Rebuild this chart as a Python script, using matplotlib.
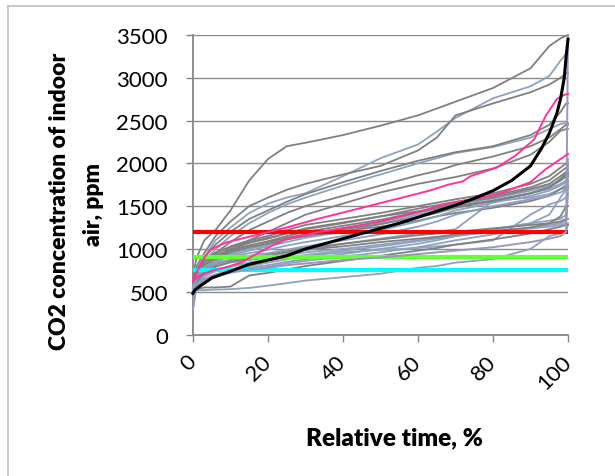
import matplotlib.pyplot as plt
from matplotlib.lines import Line2D

plt.rcParams['font.family'] = ['Lato', 'DejaVu Sans']

# relative time grid (%) shared by the grey / blue-grey duration curves
rel_time = [0, 1, 3, 6, 10, 15, 20, 25, 30, 40, 50, 60, 65, 70, 80, 90, 95, 98, 99.5, 100]

grey_curves = [
    [700, 900, 1100, 1220, 1450, 1800, 2050, 2200, 2240, 2330, 2440, 2560, 2640, 2720, 2880, 3110, 3370, 3460, 3490, 3500],
    [650, 800, 950, 1150, 1320, 1500, 1600, 1690, 1760, 1870, 1970, 2150, 2300, 2560, 2700, 2830, 2920, 3000, 3050, 3050],
    [600, 750, 900, 1050, 1200, 1350, 1450, 1550, 1640, 1780, 1910, 2030, 2080, 2130, 2200, 2330, 2450, 2600, 2700, 2700],
    [560, 680, 800, 950, 1080, 1220, 1320, 1420, 1500, 1620, 1740, 1860, 1910, 1980, 2080, 2200, 2300, 2400, 2450, 2450],
    [550, 650, 750, 870, 980, 1100, 1200, 1300, 1400, 1530, 1660, 1760, 1800, 1840, 1940, 2100, 2250, 2380, 2400, 2400],
    [550, 700, 850, 950, 1030, 1100, 1150, 1220, 1280, 1350, 1420, 1500, 1540, 1580, 1650, 1760, 1850, 1950, 2000, 2000],
    [520, 680, 820, 920, 1000, 1070, 1120, 1180, 1240, 1310, 1380, 1470, 1510, 1550, 1620, 1720, 1800, 1900, 1950, 1950],
    [500, 650, 800, 900, 980, 1040, 1090, 1150, 1200, 1270, 1340, 1430, 1480, 1530, 1600, 1700, 1760, 1850, 1900, 1900],
    [520, 640, 780, 880, 960, 1020, 1060, 1110, 1150, 1210, 1260, 1330, 1380, 1420, 1480, 1560, 1620, 1700, 1720, 1720],
    [480, 530, 550, 550, 560, 690, 720, 760, 800, 860, 920, 980, 1010, 1050, 1110, 1180, 1230, 1260, 1280, 1280],
    [560, 650, 750, 820, 870, 910, 940, 980, 1010, 1060, 1110, 1160, 1180, 1200, 1240, 1280, 1300, 1320, 1350, 1350],
    [540, 620, 720, 790, 850, 890, 920, 960, 990, 1030, 1080, 1120, 1140, 1170, 1210, 1250, 1300, 1380, 1500, 1500],
    [600, 720, 850, 930, 990, 1040, 1080, 1130, 1170, 1230, 1290, 1370, 1420, 1480, 1560, 1650, 1720, 1800, 1850, 1850],
    [620, 760, 880, 960, 1020, 1080, 1130, 1180, 1230, 1300, 1380, 1440, 1470, 1500, 1560, 1650, 1720, 1820, 1880, 1880],
]

blue_curves = [
    [600, 750, 900, 1100, 1250, 1420, 1530, 1600, 1650, 1850, 2060, 2220, 2370, 2530, 2760, 2900, 3020, 3200, 3280, 3280],
    [580, 700, 850, 1000, 1150, 1300, 1420, 1520, 1600, 1740, 1870, 2000, 2060, 2120, 2190, 2300, 2400, 2460, 2470, 2470],
    [500, 620, 760, 860, 940, 1000, 1050, 1110, 1170, 1240, 1310, 1420, 1470, 1520, 1590, 1680, 1740, 1800, 1850, 2050],
    [480, 600, 740, 840, 920, 980, 1030, 1080, 1130, 1200, 1290, 1400, 1450, 1500, 1570, 1650, 1700, 1760, 1800, 1980],
    [500, 580, 650, 700, 740, 780, 810, 850, 880, 940, 1000, 1060, 1100, 1150, 1230, 1300, 1330, 1350, 1400, 1900],
    [490, 560, 620, 680, 720, 760, 790, 830, 860, 910, 960, 1020, 1060, 1100, 1170, 1250, 1280, 1300, 1330, 1800],
    [510, 515, 520, 525, 530, 545, 570, 600, 630, 670, 710, 780, 800, 840, 880, 1000, 1150, 1180, 1200, 1300],
    [520, 600, 680, 740, 790, 840, 880, 940, 990, 1060, 1120, 1180, 1200, 1230, 1560, 1600, 1640, 1700, 1750, 1750],
    [500, 560, 640, 700, 760, 800, 840, 880, 920, 960, 990, 1010, 1030, 1050, 1100, 1400, 1520, 1560, 1600, 1700],
    [530, 640, 740, 800, 840, 870, 900, 930, 960, 1000, 1050, 1100, 1130, 1160, 1220, 1300, 1400, 1600, 1700, 1800],
    [520, 600, 700, 760, 800, 840, 870, 900, 930, 980, 1030, 1090, 1120, 1150, 1200, 1240, 1260, 1280, 1300, 1650],
    [560, 680, 790, 860, 910, 950, 990, 1040, 1080, 1150, 1220, 1320, 1380, 1450, 1540, 1620, 1680, 1740, 1780, 1780],
    [540, 650, 760, 830, 880, 920, 950, 990, 1030, 1100, 1170, 1260, 1320, 1400, 1500, 1580, 1620, 1660, 1700, 1950],
]

# curve that spikes at both ends of the time axis
spike_curve = [290, 580, 650, 700, 730, 760, 780, 810, 830, 870, 900, 940, 960, 980, 1020, 1080, 1120, 1150, 1200, 3500]

black_time = [0, 0.5, 2, 5, 10, 15, 20, 25, 30, 35, 40, 45, 50, 55, 60, 65, 70, 75, 80, 85, 90, 93, 95, 97, 98, 99, 99.5, 100]
black_co2 = [480, 520, 570, 660, 740, 820, 870, 920, 1000, 1060, 1120, 1180, 1240, 1300, 1370, 1440, 1510, 1590, 1680, 1800, 1970, 2180, 2350, 2580, 2750, 3000, 3250, 3450]

pink1_time = [0, 1, 3, 5, 9, 16, 25, 33, 45, 54, 63, 68, 72, 74, 81, 86, 91, 94, 97, 99, 100]
pink1_co2 = [640, 730, 900, 1000, 1077, 1153, 1251, 1348, 1480, 1580, 1680, 1750, 1790, 1850, 1950, 2090, 2280, 2550, 2750, 2800, 2810]

pink2_time = [0, 1.6, 5, 9, 13, 16, 21, 25, 33, 41, 50, 59, 68, 77, 82, 90, 94, 98, 100]
pink2_co2 = [620, 686, 745, 787, 845, 920, 1036, 1114, 1193, 1250, 1320, 1420, 1530, 1600, 1650, 1780, 1930, 2050, 2110]

limits = [1200, 900, 750]
limit_colors = ['#ff0000', '#66ff33', '#00ffff']

fig = plt.figure(figsize=(6.15, 4.77), dpi=100)
ax = fig.add_axes([0.3138, 0.2966, 0.6098, 0.6281])

grey = '#808080'
bluegrey = '#8da2c0'
for i in range(max(len(grey_curves), len(blue_curves))):
    if i < len(grey_curves):
        ax.plot(rel_time, grey_curves[i], color=grey, lw=1.3, zorder=3, clip_on=False)
    if i < len(blue_curves):
        ax.plot(rel_time, blue_curves[i], color=bluegrey, lw=1.3, zorder=3, clip_on=False)

for lvl, c in zip(limits, limit_colors):
    ax.plot([0, 100], [lvl, lvl], color=c, lw=3, solid_capstyle='butt', zorder=3.5)

ax.plot(rel_time, spike_curve, color='#9a96be', lw=1.4, zorder=4, clip_on=False)
ax.plot(pink1_time, pink1_co2, color='#ff3399', lw=1.4, zorder=5, clip_on=False)
ax.plot(pink2_time, pink2_co2, color='#ff3399', lw=1.4, zorder=5, clip_on=False)
ax.plot(black_time, black_co2, color='black', lw=2.2, zorder=5, clip_on=False)

ax.set_xlim(0, 100)
ax.set_ylim(0, 3500)
ax.set_xticks(range(0, 101, 20))
ax.set_yticks(range(0, 3501, 500))
ax.grid(axis='y', color='#8c8c8c', lw=1.0)
ax.set_axisbelow(True)

for s in ['top', 'right']:
    ax.spines[s].set_visible(False)
for s in ['left', 'bottom']:
    ax.spines[s].set_color('#868686')
    ax.spines[s].set_linewidth(1.3)

ax.tick_params(axis='both', direction='out', length=5, width=1.0, color='#868686',
               labelsize=16, pad=13)
ax.tick_params(axis='x', pad=12)
for lab in ax.get_xticklabels():
    lab.set_rotation(45)
    lab.set_ha('right')
    lab.set_va('center')
    lab.set_rotation_mode('anchor')

fig.text(60 / 615, 1 - 201 / 477, 'CO2 concentration of indoor', rotation=90,
         ha='center', va='center', fontsize=16.5, fontweight='heavy')
fig.text(94 / 615, 1 - 205 / 477, 'air, ppm', rotation=90,
         ha='center', va='center', fontsize=16.5, fontweight='heavy')
fig.text(394 / 615, 1 - 438 / 477, 'Relative time, %', ha='center', va='center',
         fontsize=17.5, fontweight='heavy')

# chart frame
fig.add_artist(Line2D([7.5 / 615, 1], [1 - 6.5 / 477, 1 - 6.5 / 477], color='#c0c0c0', lw=1.2))
fig.add_artist(Line2D([7.5 / 615, 7.5 / 615], [0, 1 - 6.5 / 477], color='#c0c0c0', lw=1.2))

fig.savefig('out.png', dpi=100)
